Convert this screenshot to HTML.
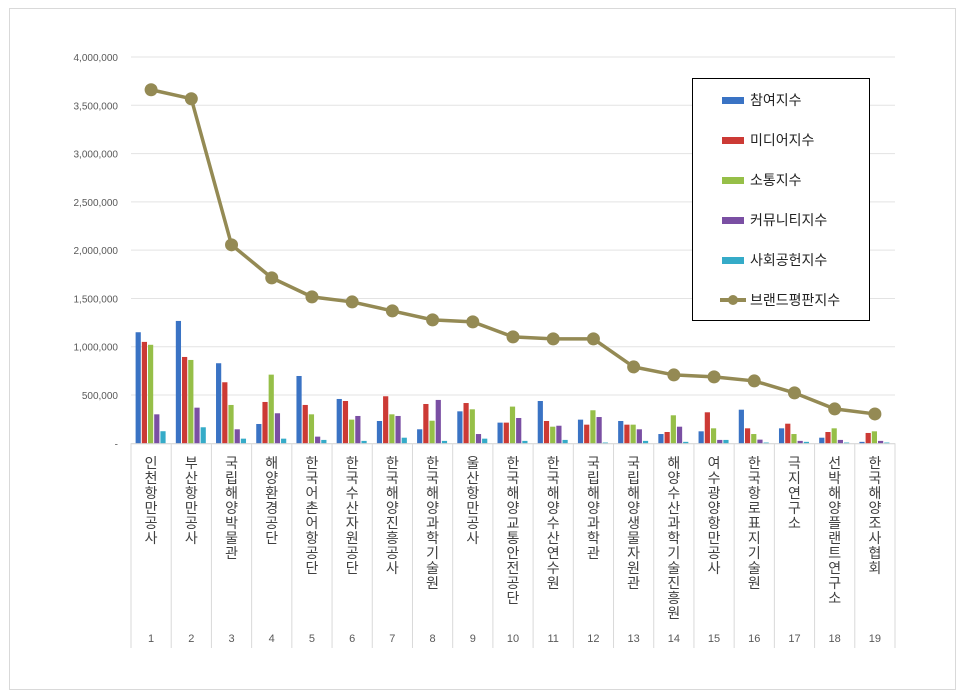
<!DOCTYPE html>
<html><head><meta charset="utf-8"><style>
body{margin:0;background:#fff;font-family:"Liberation Sans","Noto Sans CJK KR",sans-serif;}
svg{display:block}
</style></head><body>
<svg id="c" width="966" height="700" xmlns="http://www.w3.org/2000/svg">
<rect x="9.5" y="8.5" width="946" height="681" fill="#fff" stroke="#d9d9d9"/>
<g id="grid"></g><g id="bars"></g><g id="line"></g><g id="axes"></g>
<g>
<rect x="692.5" y="78.5" width="177" height="242" fill="#fff" stroke="#000"/>
</g>
<g id="legend"></g>
</svg>
<script>
const categories=["인천항만공사","부산항만공사","국립해양박물관","해양환경공단","한국어촌어항공단","한국수산자원공단","한국해양진흥공사","한국해양과학기술원","울산항만공사","한국해양교통안전공단","한국해양수산연수원","국립해양과학관","국립해양생물자원관","해양수산과학기술진흥원","여수광양항만공사","한국항로표지기술원","극지연구소","선박해양플랜트연구소","한국해양조사협회"];
const participation=[1150000,1267000,829000,200000,697000,459000,231000,145000,331000,214000,438000,245000,231000,96000,124000,348000,155000,58000,15000];
const media=[1050000,894000,632000,428000,397000,438000,487000,407000,417000,214000,231000,193000,193000,117000,321000,155000,203000,117000,107000];
const communication=[1020000,863000,397000,711000,300000,245000,300000,234000,352000,380000,172000,342000,193000,290000,155000,96000,96000,155000,124000];
const community=[300000,369000,145000,311000,69000,283000,283000,449000,96000,262000,182000,272000,145000,172000,35000,38000,25000,35000,25000];
const social=[125000,166000,48000,48000,35000,25000,58000,25000,48000,25000,35000,8000,25000,15000,35000,8000,15000,8000,8000];
const brandIndex=[3661000,3568000,2055000,1713000,1516000,1464000,1371000,1278000,1257000,1102000,1081000,1081000,791000,708000,688000,646000,522000,356000,304000];
const yTicks=[0,500000,1000000,1500000,2000000,2500000,3000000,3500000,4000000];
const seriesNames=["참여지수","미디어지수","소통지수","커뮤니티지수","사회공헌지수","브랜드평판지수"];
const colors=["#3a73c4","#cc3a35","#96bf48","#7a4fa3","#35abc8","#948a54"];
const NS="http://www.w3.org/2000/svg";
const X0=131,X1=895,Y0=443.3,Ymax=57;
const cw=(X1-X0)/categories.length;
function y(v){return Y0-(v/4000000)*(Y0-Ymax);}
function xc(i){return X0+cw*(i+0.5);}
function mk(t,a,p){const e=document.createElementNS(NS,t);for(const k in a)e.setAttribute(k,a[k]);p.appendChild(e);return e;}
const grid=document.getElementById('grid'),axes=document.getElementById('axes');
yTicks.forEach(v=>{
 if(v>0){const l=mk('line',{x1:X0,x2:X1,y1:y(v),y2:y(v),stroke:'#e3e3e3'},grid);
 
 }
 const t=mk('text',{x:118,y:y(v)+4,'text-anchor':'end','font-size':'10','fill':'#595959'},axes);
 t.textContent=v===0?'-':v.toLocaleString('en-US');
 
 
});
const ax=mk('line',{x1:X0,x2:X1,y1:Y0+0.5,y2:Y0+0.5,stroke:'#d0d0d0'},axes);


for(let i=0;i<=categories.length;i++){
 const l=mk('line',{x1:X0+cw*i,x2:X0+cw*i,y1:Y0,y2:648,stroke:'#d9d9d9'},axes);
 
 
}
categories.forEach((c,i)=>{
 const g=mk('text',{x:xc(i),'text-anchor':'middle','font-size':'14','fill':'#404040'},axes);
 
 
 [...c].forEach((ch,j)=>{const s=mk('tspan',{x:xc(i),y:468+j*15},g);s.textContent=ch;});
 const n=mk('text',{x:xc(i),y:642,'text-anchor':'middle','font-size':'11','fill':'#595959'},axes);
 n.textContent=String(i+1);
 
 
});
const bars=document.getElementById('bars');
const series=[participation,media,communication,community,social];
const bw=5.2;
series.forEach((s,k)=>{
 s.forEach((v,i)=>{
  const bx=xc(i)-2.5*bw-0.5*2+k*(bw+1)-1.5;
  const r=mk('rect',{x:bx,y:y(v),width:bw,height:Y0-y(v),fill:colors[k]},bars);
  
  
 });
});
const lg=document.getElementById('line');
const pl=mk('polyline',{points:brandIndex.map((v,i)=>xc(i)+','+y(v)).join(' '),fill:'none',stroke:colors[5],'stroke-width':'3.5'},lg);


brandIndex.forEach((v,i)=>{
 const c=mk('circle',{cx:xc(i),cy:y(v),r:6.5,fill:colors[5]},lg);
 
 
});
const leg=document.getElementById('legend');
seriesNames.forEach((n,k)=>{
 const ly=100+k*40;
 if(k<5){mk('rect',{x:722,y:ly-3,width:22,height:7,fill:colors[k]},leg);}
 else{mk('line',{x1:720,x2:746,y1:ly,y2:ly,stroke:colors[5],'stroke-width':4},leg);mk('circle',{cx:733,cy:ly,r:5,fill:colors[5]},leg);}
 const t=mk('text',{x:750,y:ly+5,'font-size':'14','fill':'#222'},leg);
 t.textContent=n;
 
 
});
</script>
</body></html>
